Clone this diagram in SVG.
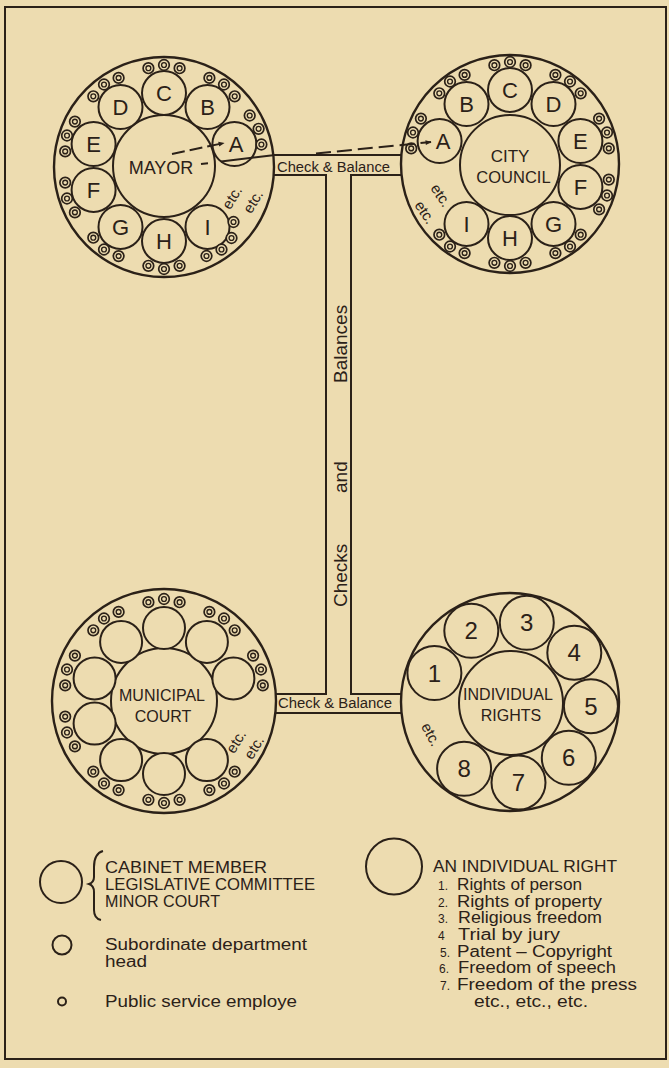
<svg xmlns="http://www.w3.org/2000/svg" xmlns:xlink="http://www.w3.org/1999/xlink" width="669" height="1068" viewBox="0 0 669 1068">
<defs>
<style>
.o{fill:#eddcb0;stroke:#2b2118;stroke-width:2.4}
.s{fill:#eddcb0;stroke:#2b2118;stroke-width:2}
.ln{fill:none;stroke:#2b2118;stroke-width:2}
.tx{font-family:"Liberation Sans",Arial,sans-serif;fill:#2b2118}
.big{font-size:18px}
.lt{font-size:22px;text-anchor:middle}
.num{font-size:24px;text-anchor:middle}
.mid{text-anchor:middle}
.etc{font-size:15px;text-anchor:middle}
.cb{font-size:14px}
.vt{font-size:19px}
.lg{font-size:16px}
.ln2{font-size:12px}
</style>
<g id="t"><circle r="5.3" fill="#eddcb0" stroke="#2b2118" stroke-width="1.7"/><circle r="2.4" fill="none" stroke="#2b2118" stroke-width="1.4"/></g>
<marker id="ah" viewBox="0 0 10 10" refX="9" refY="5" markerWidth="8" markerHeight="6" markerUnits="userSpaceOnUse" orient="auto"><path d="M0,1 L10,5 L0,9 z" fill="#2b2118"/></marker>
</defs>
<rect x="0" y="0" width="669" height="1068" fill="#eddcb0"/>
<rect x="5" y="7" width="661" height="1052" fill="none" stroke="#2b2118" stroke-width="2"/>

<g id="mayor">
<circle class="o" cx="164" cy="167" r="110"/>
<circle class="s" cx="164" cy="166" r="51"/>
<circle class="s" cx="234.4" cy="144.1" r="22"/>
<circle class="s" cx="207.5" cy="107.1" r="22"/>
<circle class="s" cx="164" cy="93" r="22"/>
<circle class="s" cx="120.5" cy="107.1" r="22"/>
<circle class="s" cx="93.6" cy="144.1" r="22"/>
<circle class="s" cx="93.6" cy="189.9" r="22"/>
<circle class="s" cx="120.5" cy="226.9" r="22"/>
<circle class="s" cx="164" cy="241" r="22"/>
<circle class="s" cx="207.5" cy="226.9" r="22"/>
<text class="tx big mid" x="161" y="174">MAYOR</text>
<text class="tx lt" x="236" y="152">A</text>
<text class="tx lt" x="207.5" y="115">B</text>
<text class="tx lt" x="164" y="101">C</text>
<text class="tx lt" x="120.5" y="115">D</text>
<text class="tx lt" x="93.6" y="152">E</text>
<text class="tx lt" x="93.6" y="198">F</text>
<text class="tx lt" x="120.5" y="235">G</text>
<text class="tx lt" x="164" y="249">H</text>
<text class="tx lt" x="207.5" y="235">I</text>
<use xlink:href="#t" x="249.7" y="115.5"/><use xlink:href="#t" x="258.6" y="128.8"/><use xlink:href="#t" x="261.4" y="144.5"/>
<use xlink:href="#t" x="209.4" y="77.9"/><use xlink:href="#t" x="224" y="84.5"/><use xlink:href="#t" x="234.7" y="96.3"/>
<use xlink:href="#t" x="148.4" y="68.2"/><use xlink:href="#t" x="164" y="65"/><use xlink:href="#t" x="179.6" y="68.2"/>
<use xlink:href="#t" x="93.3" y="96.3"/><use xlink:href="#t" x="104" y="84.5"/><use xlink:href="#t" x="118.6" y="77.9"/>
<use xlink:href="#t" x="65.2" y="151.4"/><use xlink:href="#t" x="67" y="135.5"/><use xlink:href="#t" x="74.9" y="121.6"/>
<use xlink:href="#t" x="74.9" y="212.4"/><use xlink:href="#t" x="67" y="198.5"/><use xlink:href="#t" x="65.2" y="182.6"/>
<use xlink:href="#t" x="118.6" y="256.1"/><use xlink:href="#t" x="104" y="249.5"/><use xlink:href="#t" x="93.3" y="237.7"/>
<use xlink:href="#t" x="179.6" y="265.8"/><use xlink:href="#t" x="164" y="269"/><use xlink:href="#t" x="148.4" y="265.8"/>
<use xlink:href="#t" x="233.5" y="222"/><use xlink:href="#t" x="231.5" y="238"/><use xlink:href="#t" x="221.5" y="249.5"/><use xlink:href="#t" x="206.5" y="256"/>
<text class="tx etc" transform="translate(233,198) rotate(-58)" y="4">etc.</text>
<text class="tx etc" transform="translate(254,202) rotate(-58)" y="4">etc.</text>
</g>

<g id="city-council">
<circle class="o" cx="510" cy="164" r="109"/>
<circle class="s" cx="510" cy="165" r="50"/>
<circle class="s" cx="439.6" cy="141.1" r="22"/>
<circle class="s" cx="466.5" cy="104.1" r="22"/>
<circle class="s" cx="510" cy="90" r="22"/>
<circle class="s" cx="553.5" cy="104.1" r="22"/>
<circle class="s" cx="580.4" cy="141.1" r="22"/>
<circle class="s" cx="580.4" cy="186.9" r="22"/>
<circle class="s" cx="553.5" cy="223.9" r="22"/>
<circle class="s" cx="510" cy="238" r="22"/>
<circle class="s" cx="466.5" cy="223.9" r="22"/>
<text class="tx mid" x="510" y="162" font-size="17">CITY</text>
<text class="tx mid" x="513.5" y="183" font-size="16.5">COUNCIL</text>
<text class="tx lt" x="443" y="149">A</text>
<text class="tx lt" x="466.5" y="112">B</text>
<text class="tx lt" x="510" y="98">C</text>
<text class="tx lt" x="553.5" y="112">D</text>
<text class="tx lt" x="580.4" y="149">E</text>
<text class="tx lt" x="580.4" y="195">F</text>
<text class="tx lt" x="553.5" y="232">G</text>
<text class="tx lt" x="510" y="246">H</text>
<text class="tx lt" x="466.5" y="232">I</text>
<use xlink:href="#t" x="494.4" y="65.2"/><use xlink:href="#t" x="510" y="62"/><use xlink:href="#t" x="525.6" y="65.2"/>
<use xlink:href="#t" x="439.3" y="93.3"/><use xlink:href="#t" x="450" y="81.5"/><use xlink:href="#t" x="464.6" y="74.9"/>
<use xlink:href="#t" x="555.4" y="74.9"/><use xlink:href="#t" x="570" y="81.5"/><use xlink:href="#t" x="580.7" y="93.3"/>
<use xlink:href="#t" x="599.1" y="118.6"/><use xlink:href="#t" x="607" y="132.5"/><use xlink:href="#t" x="608.8" y="148.4"/>
<use xlink:href="#t" x="420.9" y="118.6"/><use xlink:href="#t" x="413" y="132.5"/><use xlink:href="#t" x="411.2" y="148.4"/>
<use xlink:href="#t" x="608.8" y="179.6"/><use xlink:href="#t" x="607" y="195.5"/><use xlink:href="#t" x="599.1" y="209.4"/>
<use xlink:href="#t" x="580.7" y="234.7"/><use xlink:href="#t" x="570" y="246.5"/><use xlink:href="#t" x="555.4" y="253.1"/>
<use xlink:href="#t" x="525.6" y="262.8"/><use xlink:href="#t" x="510" y="266"/><use xlink:href="#t" x="494.4" y="262.8"/>
<use xlink:href="#t" x="464.6" y="253.1"/><use xlink:href="#t" x="450" y="246.5"/><use xlink:href="#t" x="439.3" y="234.7"/>
<text class="tx etc" transform="translate(440,196) rotate(56)" y="4">etc.</text>
<text class="tx etc" transform="translate(424,213) rotate(56)" y="4">etc.</text>
</g>

<g id="municipal-court">
<circle class="o" cx="164" cy="701" r="112"/>
<circle class="s" cx="164" cy="701" r="53"/>
<circle class="s" cx="233.4" cy="678.4" r="21"/>
<circle class="s" cx="206.9" cy="641.9" r="21"/>
<circle class="s" cx="164" cy="628" r="21"/>
<circle class="s" cx="121.1" cy="641.9" r="21"/>
<circle class="s" cx="94.6" cy="678.4" r="21"/>
<circle class="s" cx="94.6" cy="723.6" r="21"/>
<circle class="s" cx="121.1" cy="760.1" r="21"/>
<circle class="s" cx="164" cy="774" r="21"/>
<circle class="s" cx="206.9" cy="760.1" r="21"/>
<text class="tx mid" x="162" y="701" font-size="16">MUNICIPAL</text>
<text class="tx mid" x="163" y="722" font-size="16">COURT</text>
<use xlink:href="#t" x="148.4" y="602.2"/><use xlink:href="#t" x="164" y="599"/><use xlink:href="#t" x="179.6" y="602.2"/>
<use xlink:href="#t" x="209.4" y="611.9"/><use xlink:href="#t" x="224" y="618.5"/><use xlink:href="#t" x="234.7" y="630.3"/>
<use xlink:href="#t" x="93.3" y="630.3"/><use xlink:href="#t" x="104" y="618.5"/><use xlink:href="#t" x="118.6" y="611.9"/>
<use xlink:href="#t" x="253.1" y="655.6"/><use xlink:href="#t" x="261" y="669.5"/><use xlink:href="#t" x="262.8" y="685.4"/>
<use xlink:href="#t" x="65.2" y="685.4"/><use xlink:href="#t" x="67" y="669.5"/><use xlink:href="#t" x="74.9" y="655.6"/>
<use xlink:href="#t" x="74.9" y="746.4"/><use xlink:href="#t" x="67" y="732.5"/><use xlink:href="#t" x="65.2" y="716.6"/>
<use xlink:href="#t" x="118.6" y="790.1"/><use xlink:href="#t" x="104" y="783.5"/><use xlink:href="#t" x="93.3" y="771.7"/>
<use xlink:href="#t" x="179.6" y="799.8"/><use xlink:href="#t" x="164" y="803"/><use xlink:href="#t" x="148.4" y="799.8"/>
<use xlink:href="#t" x="234.7" y="771.7"/><use xlink:href="#t" x="224" y="783.5"/><use xlink:href="#t" x="209.4" y="790.1"/>
<text class="tx etc" transform="translate(237,742) rotate(-58)" y="4">etc.</text>
<text class="tx etc" transform="translate(255,748) rotate(-58)" y="4">etc.</text>
</g>

<g id="individual-rights">
<circle class="o" cx="510" cy="702" r="109"/>
<circle class="s" cx="511" cy="703" r="52"/>
<circle class="s" cx="434.4" cy="673" r="27"/>
<circle class="s" cx="471.3" cy="630.8" r="27"/>
<circle class="s" cx="526.8" cy="622.8" r="27"/>
<circle class="s" cx="574.3" cy="652.7" r="27"/>
<circle class="s" cx="590.9" cy="706.2" r="27"/>
<circle class="s" cx="568.8" cy="757.8" r="27"/>
<circle class="s" cx="518.5" cy="782.6" r="27"/>
<circle class="s" cx="464.1" cy="768.8" r="27"/>
<text class="tx mid" x="508" y="700" font-size="16">INDIVIDUAL</text>
<text class="tx mid" x="511" y="721" font-size="16">RIGHTS</text>
<text class="tx num" x="434.4" y="681.5">1</text>
<text class="tx num" x="471.3" y="639.3">2</text>
<text class="tx num" x="526.8" y="631.3">3</text>
<text class="tx num" x="574.3" y="661.2">4</text>
<text class="tx num" x="590.9" y="714.7">5</text>
<text class="tx num" x="568.8" y="766.3">6</text>
<text class="tx num" x="518.5" y="791.1">7</text>
<text class="tx num" x="464.1" y="777.3">8</text>
<text class="tx etc" transform="translate(430,735) rotate(62)" y="4">etc.</text>
</g>

<g id="legend-left">
<circle class="s" cx="61" cy="882" r="21" stroke-width="2.2"/>
<path class="ln" d="M103,851 C96,853 94,859 94,867 L94,877 C94,881 92,883 89,884 C92,885 94,888 94,892 L94,910 C94,916 96,919 101,920" stroke-width="1.6"/>
<text class="tx lg" x="105" y="873" textLength="162" lengthAdjust="spacingAndGlyphs">CABINET  MEMBER</text>
<text class="tx lg" x="105" y="890" textLength="210" lengthAdjust="spacingAndGlyphs">LEGISLATIVE COMMITTEE</text>
<text class="tx lg" x="105" y="907" textLength="115" lengthAdjust="spacingAndGlyphs">MINOR COURT</text>
<circle class="s" cx="62" cy="945" r="9.5"/>
<text class="tx lg" x="105" y="950" textLength="202" lengthAdjust="spacingAndGlyphs">Subordinate department</text>
<text class="tx lg" x="105" y="967" textLength="42" lengthAdjust="spacingAndGlyphs">head</text>
<circle class="s" cx="62" cy="1001.5" r="4"/>
<text class="tx lg" x="105" y="1006.5" textLength="192" lengthAdjust="spacingAndGlyphs">Public service employe</text>
</g>

<g id="legend-right">
<circle class="s" cx="394" cy="866.5" r="28" stroke-width="2.2"/>
<text class="tx lg" x="433" y="872" textLength="184" lengthAdjust="spacingAndGlyphs">AN INDIVIDUAL RIGHT</text>
<text class="tx ln2" x="438" y="890">1.</text>
<text class="tx lg" x="457" y="890" textLength="125" lengthAdjust="spacingAndGlyphs">Rights of person</text>
<text class="tx ln2" x="438" y="906.7">2.</text>
<text class="tx lg" x="457" y="906.7" textLength="145" lengthAdjust="spacingAndGlyphs">Rights of property</text>
<text class="tx ln2" x="438" y="923.3">3.</text>
<text class="tx lg" x="458" y="923.3" textLength="144" lengthAdjust="spacingAndGlyphs">Religious freedom</text>
<text class="tx ln2" x="438" y="940">4</text>
<text class="tx lg" x="458" y="940" textLength="102" lengthAdjust="spacingAndGlyphs">Trial by jury</text>
<text class="tx ln2" x="440" y="956.7">5.</text>
<text class="tx lg" x="457" y="956.7" textLength="155" lengthAdjust="spacingAndGlyphs">Patent – Copyright</text>
<text class="tx ln2" x="439" y="973.3">6.</text>
<text class="tx lg" x="458" y="973.3" textLength="158" lengthAdjust="spacingAndGlyphs">Freedom of speech</text>
<text class="tx ln2" x="440" y="990">7.</text>
<text class="tx lg" x="457" y="990" textLength="180" lengthAdjust="spacingAndGlyphs">Freedom of the press</text>
<text class="tx lg" x="474" y="1006.7" textLength="114" lengthAdjust="spacingAndGlyphs">etc., etc., etc.</text>
</g>

<g id="connectors">
<path class="ln" d="M273,155 H401 M274,175 H326 V694 H276 M401,175 H351 V694 H401 M276,713 H401"/>
<text class="tx cb" x="277" y="172" textLength="113" lengthAdjust="spacingAndGlyphs">Check &amp; Balance</text>
<text class="tx cb" x="278" y="708" textLength="114" lengthAdjust="spacingAndGlyphs">Check &amp; Balance</text>
<text class="tx vt" transform="translate(347,607) rotate(-90)">Checks</text>
<text class="tx vt" transform="translate(347,493) rotate(-90)">and</text>
<text class="tx vt" transform="translate(347,383) rotate(-90)">Balances</text>
<path class="ln" d="M201,164 L208,163.2 M221,161.6 L273,155.3" stroke-width="1.5"/>
<path class="ln" d="M316,153.5 L431,142" stroke-width="1.5" stroke-dasharray="15,6" marker-end="url(#ah)"/>
<path class="ln" d="M172,154 L224,143" stroke-width="1.5" stroke-dasharray="13,5" marker-end="url(#ah)"/>
</g>
</svg>
